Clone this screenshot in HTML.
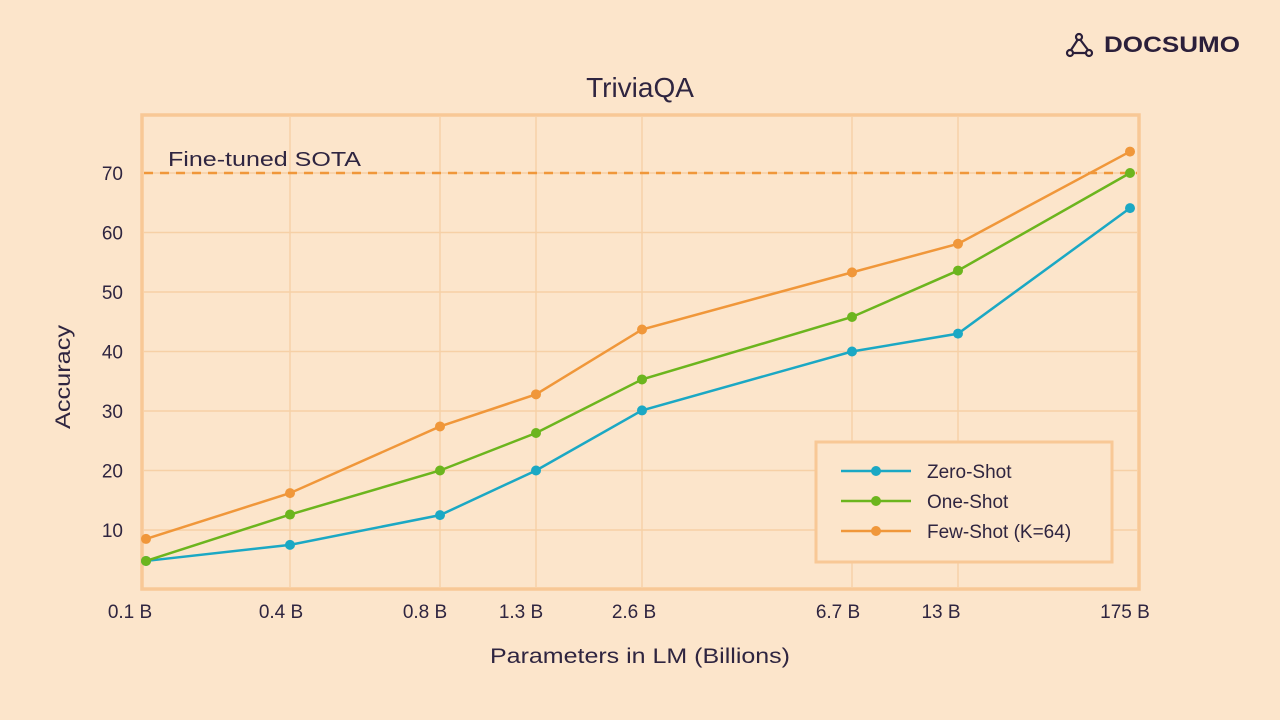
<!DOCTYPE html>
<html><head><meta charset="utf-8"><style>
html,body{margin:0;padding:0;background:#fce5cb;}
svg{display:block;font-family:"Liberation Sans",sans-serif;}
</style></head><body>
<svg id="chart" width="1280" height="720" viewBox="0 0 1280 720">
<rect x="0" y="0" width="1280" height="720" fill="#fce5cb"/>
<g>
<g stroke="#2b1f3a" stroke-width="2.2" fill="none"><circle cx="1079" cy="37" r="3"/><circle cx="1070" cy="53" r="3"/><circle cx="1089" cy="53" r="3"/><path d="M1077.5 40 L1071 50 M1080.5 40 L1088 50 M1073 53 L1086 53"/></g>
<text x="1104" y="52" font-size="22" font-weight="bold" fill="#2b1f3a" textLength="136" lengthAdjust="spacingAndGlyphs">DOCSUMO</text>
</g>
<text x="640" y="97" text-anchor="middle" font-size="28" fill="#2f2540">TriviaQA</text>
<g id="grid"></g>
<rect x="142" y="115" width="997" height="474" fill="none" stroke="#f8c896" stroke-width="3.5"/>
<line x1="144" y1="173" x2="1137" y2="173" stroke="#f0973a" stroke-width="2.5" stroke-dasharray="9,7"/>
<text x="168" y="166" font-size="20" fill="#2f2540" textLength="193" lengthAdjust="spacingAndGlyphs">Fine-tuned SOTA</text>
<g id="axes"></g>
<g id="series"></g>
<text x="640" y="663" text-anchor="middle" font-size="21" fill="#2f2540" textLength="300" lengthAdjust="spacingAndGlyphs">Parameters in LM (Billions)</text>
<text transform="translate(70,377) rotate(-90)" text-anchor="middle" font-size="21" fill="#2f2540" textLength="104" lengthAdjust="spacingAndGlyphs">Accuracy</text>
<g>
<rect x="816" y="442" width="296" height="120" fill="#fce5cb" stroke="#f8c896" stroke-width="3"/>
<g id="legend-items"></g>
</g>
</svg>
<script>
const categories=["0.1 B","0.4 B","0.8 B","1.3 B","2.6 B","6.7 B","13 B","175 B"];
const zeroShot=[4.8,7.5,12.5,20,30.1,40,43,64.1];
const oneShot=[4.8,12.6,20,26.3,35.3,45.8,53.6,70];
const fewShot=[8.5,16.2,27.4,32.8,43.7,53.3,58.1,73.6];
const yTicks=[10,20,30,40,50,60,70];
const seriesNames=["Zero-Shot","One-Shot","Few-Shot (K=64)"];
const seriesColors=["#1ba8c4","#6cb51e","#f0973a"];
const catPos=[146,290,440,536,642,852,958,1130];
const labelPos=[130,281,425,521,634,838,941,1125];
const NS="http://www.w3.org/2000/svg";
function X(i){return catPos[i];}
function Y(v){return 173+(70-v)*5.95;}
function mk(tag,attrs,parent){const e=document.createElementNS(NS,tag);for(const k in attrs)e.setAttribute(k,attrs[k]);parent.appendChild(e);return e;}
const grid=document.getElementById('grid'),axes=document.getElementById('axes'),ser=document.getElementById('series');
yTicks.forEach(t=>{
 const l=mk('line',{x1:144,x2:1137,y1:Y(t),y2:Y(t),stroke:'#f6d0a6','stroke-width':1.4},grid);
 
 
 const tx=mk('text',{x:123,y:Y(t)+7,'text-anchor':'end','font-size':19,fill:'#2f2540'},axes);tx.textContent=t;
 
 
});
categories.forEach((c,i)=>{
 if(i>0&&i<categories.length-1){const l=mk('line',{x1:X(i),x2:X(i),y1:117,y2:587,stroke:'#f6d0a6','stroke-width':1.4},grid);
 
 }
 const tx=mk('text',{x:labelPos[i],y:618,'text-anchor':'middle','font-size':19,fill:'#2f2540'},axes);tx.textContent=c;
 
 
});
[zeroShot,oneShot,fewShot].forEach((d,s)=>{
 const g=mk('g',{},ser);
 
 
 const p=d.map((v,i)=>(i?'L':'M')+X(i)+' '+Y(v)).join(' ');
 const pl=mk('path',{d:p,fill:'none',stroke:seriesColors[s],'stroke-width':2.5},g);
 
 
 d.forEach((v,i)=>{const c=mk('circle',{cx:X(i),cy:Y(v),r:5,fill:seriesColors[s]},g);
 
 });
});
const li=document.getElementById('legend-items');
seriesNames.forEach((n,s)=>{
 const y=471+s*30;
 const g=mk('g',{},li);
 
 
 mk('line',{x1:841,x2:911,y1:y,y2:y,stroke:seriesColors[s],'stroke-width':2.5},g);
 mk('circle',{cx:876,cy:y,r:5,fill:seriesColors[s]},g);
 const t=mk('text',{x:927,y:y+7,'font-size':19,fill:'#2f2540'},g);t.textContent=n;
});
</script>
</body></html>
